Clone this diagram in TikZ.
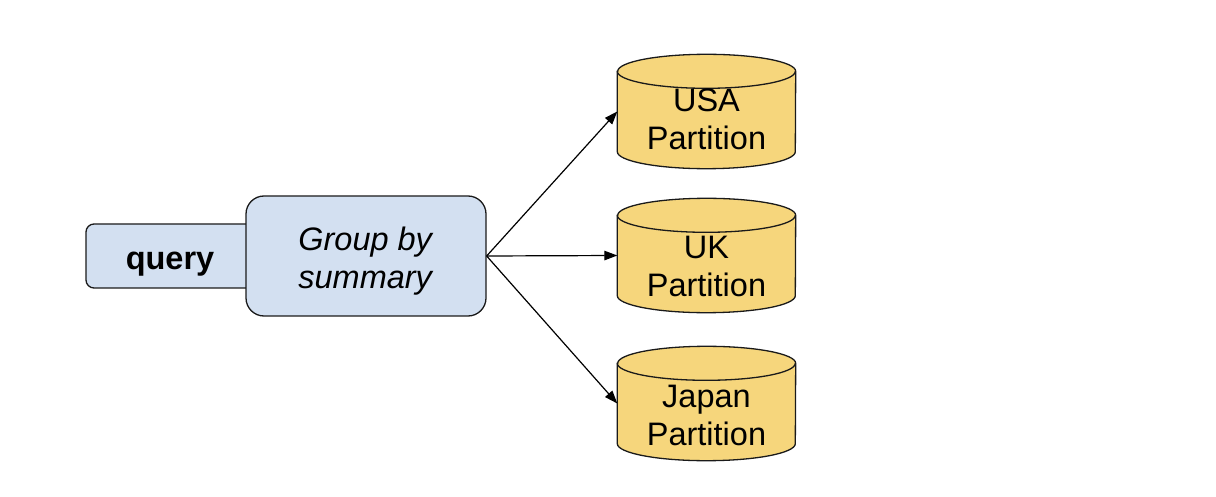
\documentclass[tikz,border=0pt]{standalone}
\usepackage{fontspec}
\setmainfont{Liberation Sans}
\usetikzlibrary{arrows.meta,calc}
\definecolor{qblue}{HTML}{D3E0F1}
\definecolor{pyellow}{HTML}{F6D67C}
\definecolor{edgec}{HTML}{1A1A1A}
\tikzset{
  txt/.style={font=\fontsize{32.5}{38}\selectfont, align=center, text=black, inner sep=0pt},
  boxq/.style={draw=edgec, line width=1.3pt, fill=qblue, rounded corners=8pt, inner sep=0pt, minimum width=168pt, minimum height=64pt},
  boxg/.style={draw=edgec, line width=1.3pt, fill=qblue, rounded corners=18pt, inner sep=0pt, minimum width=240pt, minimum height=120pt},
  cylnode/.style={rectangle, inner sep=0pt, minimum width=178pt, minimum height=114pt},
  cylline/.style={draw=edgec, line width=1.3pt, fill=pyellow},
  conn/.style={draw=black, line width=1.2pt, -{Triangle[length=13pt,width=9.5pt]}},
}
\newcommand{\mycyl}[1]{%
  \path[cylline] ($(#1.north west)+(0pt,-17pt)$) -- ($(#1.south west)+(0pt,17pt)$)
    arc[start angle=180,end angle=360,x radius=89pt,y radius=17pt]
    -- ($(#1.north east)+(0pt,-17pt)$)
    arc[start angle=0,end angle=180,x radius=89pt,y radius=17pt] -- cycle;
  \draw[edgec, line width=1.3pt] ($(#1.north west)+(0pt,-17pt)$)
    arc[start angle=180,end angle=360,x radius=89pt,y radius=17pt];
}
\begin{document}
\begin{tikzpicture}[x=1pt,y=1pt]
\useasboundingbox (0,0) rectangle (1216,496);
\node[boxq] (query) at (170,240) {};
\node[boxg] (group) at (366,240) {};
\node[txt] (queryt) at ($(query)+(0,-8)$) {\textbf{query}};
\node[txt] (groupt) at ($(group)+(0,-5)$) {\textit{Group by}\\\textit{summary}};
\node[cylnode] (usa) at (706.5,384.5) {};
\node[cylnode] (uk) at (706.5,240.5) {};
\node[cylnode] (japan) at (706.5,92.5) {};
\mycyl{usa}
\mycyl{uk}
\mycyl{japan}
\node[txt] (usat) at ($(usa)+(0,-8)$) {USA\\Partition};
\node[txt] (ukt) at ($(uk)+(0,-11)$) {UK\\Partition};
\node[txt] (japant) at ($(japan)+(0,-12)$) {Japan\\Partition};
\draw[conn] (group.east) -- (usa.west);
\draw[conn] (group.east) -- (uk.west);
\draw[conn] (group.east) -- (japan.west);
\end{tikzpicture}
\end{document}
